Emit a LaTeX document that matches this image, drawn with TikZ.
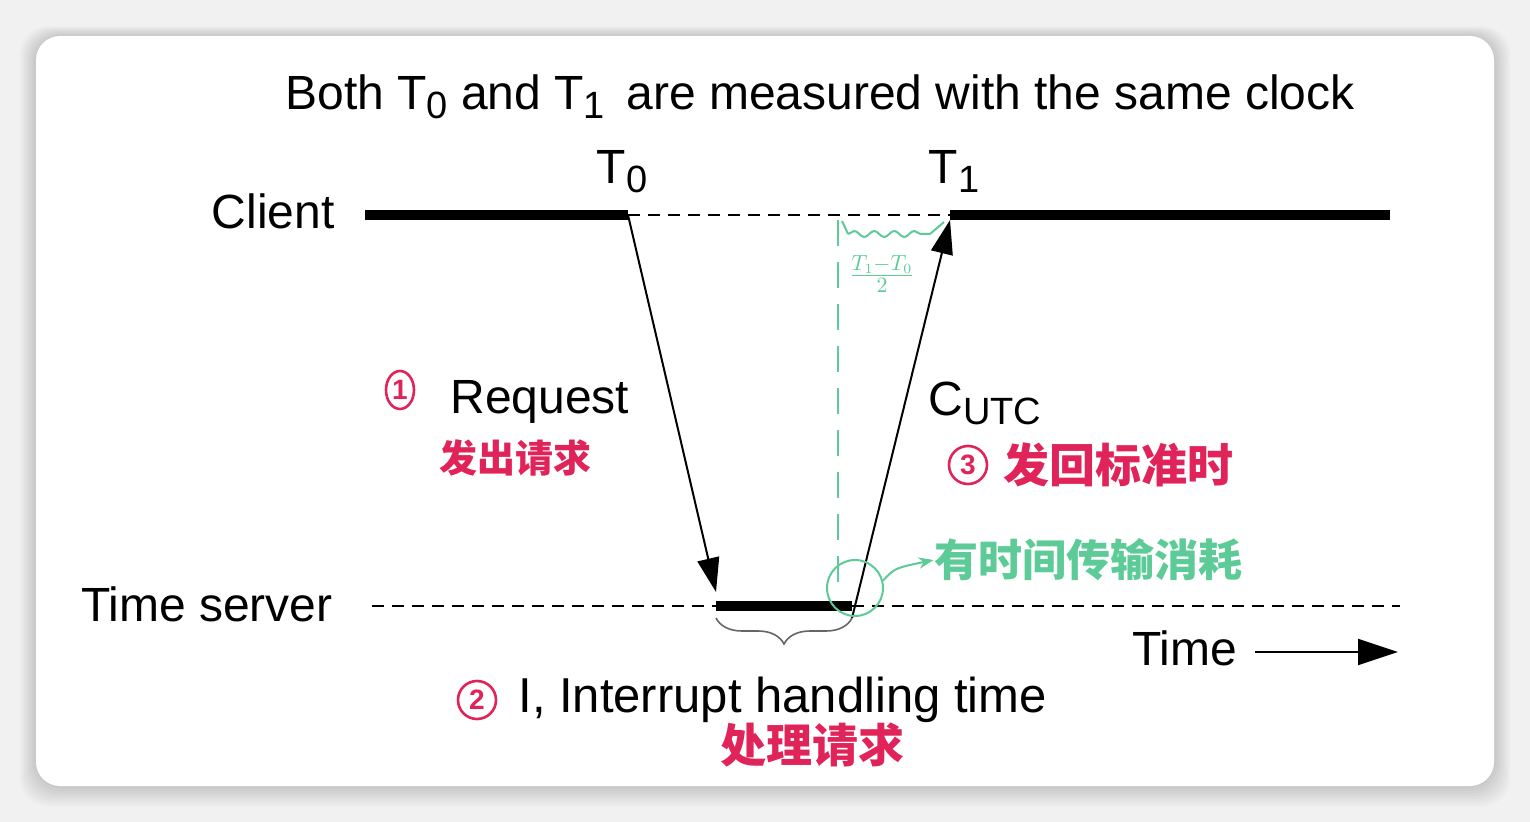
\documentclass[tikz,border=0pt]{standalone}
\usepackage{fontspec}
\setmainfont{Liberation Sans}
\newfontfamily\cjk{Noto Sans CJK SC}
\usetikzlibrary{positioning,shapes.geometric,arrows.meta,decorations.pathreplacing,decorations.pathmorphing}

\definecolor{pagebg}{HTML}{F1F1F1}
\definecolor{inkred}{HTML}{E0245A}
\definecolor{inkgreen}{HTML}{5CCB97}
\newcommand\lowsub[1]{\raisebox{-0.35ex}{\fontsize{19}{20}\selectfont #1}}

\begin{document}
\begin{tikzpicture}[
  x=0.5pt, y=-0.5pt,
  lbl/.style={font=\fontsize{24}{28}\selectfont, inner sep=0pt},
  rednote/.style={font=\cjk\bfseries\fontsize{22}{24}\selectfont, text=inkred, inner sep=0pt},
  stepno/.style={draw=inkred, text=inkred, line width=1.3pt, ellipse, inner sep=0pt,
                 minimum width=14pt, minimum height=19pt, font=\bfseries\fontsize{14}{14}\selectfont},
  greennote/.style={font=\cjk\bfseries\fontsize{22}{24}\selectfont, text=inkgreen, inner sep=0pt},
  timeline/.style={line width=5pt},
  waitline/.style={line width=0.8pt, dash pattern=on 6pt off 4pt},
  msg/.style={line width=1pt, -{Triangle[length=17pt, width=11pt]}},
  >=Stealth
]
  \useasboundingbox (0,0) rectangle (1530,822);
  \fill[pagebg] (0,0) rectangle (1530,822);
  % soft shadow round the card
  \foreach \i in {1,...,8}
    \fill[black, opacity=0.018, rounded corners=14pt]
      ({36-2*\i},{36-1.2*\i}) rectangle ({1494+2*\i},{786+2.5*\i});
  \fill[white, rounded corners=12pt] (36,36) rectangle (1494,786);

  \node[lbl, anchor=base] (title) at (820,110)
    {Both T\lowsub{0} and T\lowsub{1}\, are measured with the same clock};

  % client
  \node[lbl, anchor=base east] (client) at (335,229) {Client};
  \coordinate (c0) at (365,215);
  \coordinate (t0) at (628,215);
  \coordinate (t1) at (950,215);
  \coordinate (c1) at (1390,215);
  \draw[timeline] (c0) -- (t0);
  \draw[waitline] (t0) -- (t1);
  \draw[timeline] (t1) -- (c1);
  \node[lbl, anchor=base] (T0lbl) at (622,184) {T\lowsub{0}};
  \node[lbl, anchor=base] (T1lbl) at (954,184) {T\lowsub{1}};

  % server
  \node[lbl, anchor=base east] (server) at (333,622) {Time server};
  \coordinate (s0) at (372,606);
  \coordinate (sa) at (716,606);
  \coordinate (sb) at (852,606);
  \coordinate (s1) at (1400,606);
  \draw[waitline] (s0) -- (sa);
  \draw[timeline] (sa) -- (sb);
  \draw[waitline] (sb) -- (s1);

  % messages
  \coordinate (reqtip) at (716,592);
  \coordinate (reptip) at (950,220);
  \draw[msg] (t0) -- (reqtip);
  \draw[msg] ([yshift=-6]sb) -- (reptip);
  \node[lbl, anchor=base west] (request) at (450,414) {Request};
  \node[lbl, anchor=base west] (cutc) at (928,416) {C\lowsub{UTC}};

  % interrupt handling
  \draw[gray!80!black, line width=0.8pt, decorate,
        decoration={brace, mirror, amplitude=13pt}]
    (716,618) -- (852,618);
  \node[lbl, anchor=base west, font=\fontsize{24.5}{28}\selectfont] (interrupt) at (518,712)
    {I, Interrupt handling time};

  % time axis
  \node[lbl, anchor=base west] (timelbl) at (1132,666) {Time};
  \coordinate (ax0) at (1255,652);
  \coordinate (ax1) at (1398,652);
  \draw[line width=1pt, -{Triangle[length=20pt, width=13pt]}] (ax0) -- (ax1);

  % red notes
  \node[stepno] (n1) at (400,390) {1};
  \node[rednote, font=\cjk\bfseries\fontsize{19}{22}\selectfont] (sendreq) at (515,458) {发出请求};
  \node[stepno, minimum width=19pt] (n3) at (968,465) {3};
  \node[rednote, font=\cjk\bfseries\fontsize{23}{24}\selectfont] (sendback) at (1118,465) {发回标准时};
  \node[stepno, minimum width=19pt] (n2) at (477,700) {2};
  \node[rednote, font=\cjk\bfseries\fontsize{23}{24}\selectfont] (handle) at (812,745) {处理请求};

  % green notes
  \draw[inkgreen, line width=1pt, dash pattern=on 13pt off 8pt] (838,220) -- (838,592);
  \draw[inkgreen, line width=1pt] (842,221) -- (848,234);
  \draw[inkgreen, line width=1pt, decorate,
        decoration={snake, amplitude=1.5pt, segment length=10pt}] (848,234) -- (930,234);
  \draw[inkgreen, line width=1pt] (930,234) -- (944,222);
  \node[text=inkgreen, inner sep=0pt, font=\fontsize{15}{16}\selectfont] (half) at (882,274)
    {$\frac{T_1-T_0}{2}$};
  \node[draw=inkgreen, line width=1pt, circle, minimum size=28pt, inner sep=0pt] (hit) at (855,588) {};
  \node[greennote] (transfer) at (1088,560) {有时间传输消耗};
  \draw[inkgreen, line width=1pt, ->] (hit.15) .. controls (895,568) .. (transfer.west);
\end{tikzpicture}
\end{document}
